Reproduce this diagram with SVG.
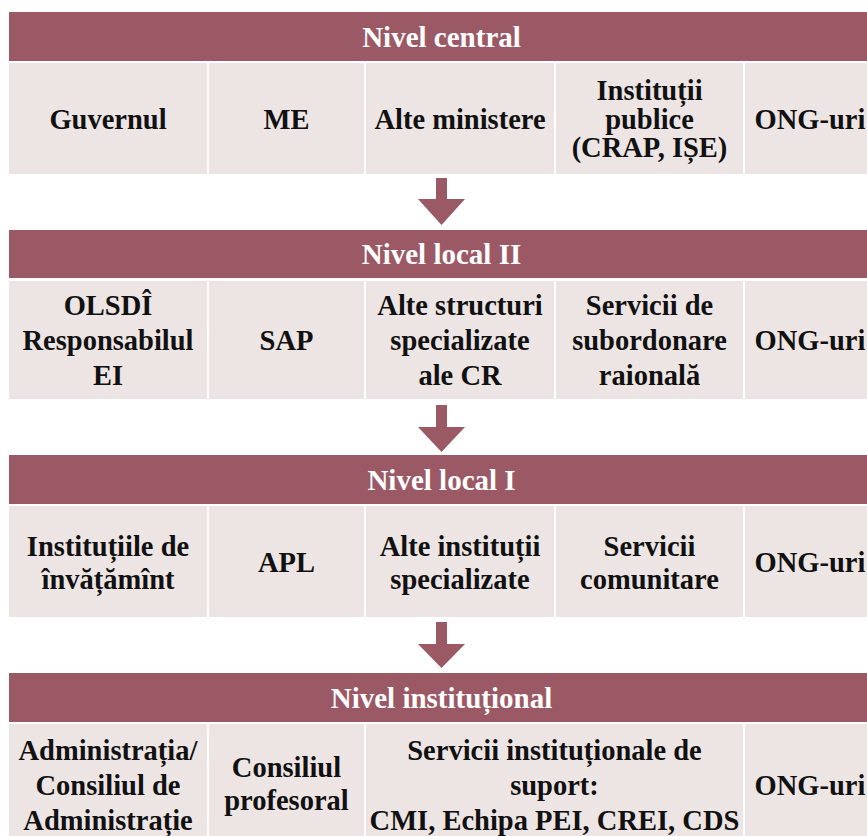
<svg xmlns="http://www.w3.org/2000/svg" width="867" height="836" viewBox="0 0 867 836">
<style>
.hd{fill:#9b5966}
.cl{fill:#ede5e4}
.ht{font-family:'Liberation Serif','Times New Roman',serif;font-weight:700;font-size:29px;fill:#ffffff;text-anchor:middle}
.ct{font-family:'Liberation Serif','Times New Roman',serif;font-weight:700;font-size:28.5px;fill:#111111;text-anchor:middle}
.ar{fill:#9b5966}
</style>
<rect width="867" height="836" fill="#ffffff"/>

<g id="nivel-central">
  <g id="h1"><rect class="hd" x="9" y="12" width="865" height="49"/><text class="ht" x="441.5" y="46.5">Nivel central</text></g>
  <g id="n1-guvernul"><rect class="cl" x="9" y="63" width="198" height="111"/><text class="ct" x="108" y="128.5">Guvernul</text></g>
  <g id="n1-me"><rect class="cl" x="209" y="63" width="155" height="111"/><text class="ct" x="286.5" y="128.5">ME</text></g>
  <g id="n1-alte"><rect class="cl" x="366" y="63" width="188" height="111"/><text class="ct" x="460" y="128.5">Alte ministere</text></g>
  <g id="n1-institutii"><rect class="cl" x="556" y="63" width="187" height="111"/><text class="ct" x="649.5" y="100">Instituții</text><text class="ct" x="649.5" y="128.5">publice</text><text class="ct" x="649.5" y="157">(CRAP, IȘE)</text></g>
  <g id="n1-ong"><rect class="cl" x="745" y="63" width="129" height="111"/><text class="ct" x="810" y="128.5">ONG-uri</text></g>
</g>

<g id="nivel-local-2">
  <g id="h2"><rect class="hd" x="9" y="230" width="865" height="48"/><text class="ht" x="441.5" y="264">Nivel local II</text></g>
  <g id="n2-olsdi"><rect class="cl" x="9" y="281" width="198" height="118"/><text class="ct" x="108" y="315">OLSDÎ</text><text class="ct" x="108" y="350">Responsabilul</text><text class="ct" x="108" y="385">EI</text></g>
  <g id="n2-sap"><rect class="cl" x="209" y="281" width="155" height="118"/><text class="ct" x="286.5" y="350">SAP</text></g>
  <g id="n2-alte"><rect class="cl" x="366" y="281" width="188" height="118"/><text class="ct" x="460" y="315">Alte structuri</text><text class="ct" x="460" y="350">specializate</text><text class="ct" x="460" y="385">ale CR</text></g>
  <g id="n2-servicii"><rect class="cl" x="556" y="281" width="187" height="118"/><text class="ct" x="649.5" y="315">Servicii de</text><text class="ct" x="649.5" y="350">subordonare</text><text class="ct" x="649.5" y="385">raională</text></g>
  <g id="n2-ong"><rect class="cl" x="745" y="281" width="129" height="118"/><text class="ct" x="810" y="350">ONG-uri</text></g>
</g>

<g id="nivel-local-1">
  <g id="h3"><rect class="hd" x="9" y="455" width="865" height="49"/><text class="ht" x="441.5" y="489.5">Nivel local I</text></g>
  <g id="n3-institutiile"><rect class="cl" x="9" y="506" width="198" height="111"/><text class="ct" x="108" y="555.5">Instituțiile de</text><text class="ct" x="108" y="589">învățămînt</text></g>
  <g id="n3-apl"><rect class="cl" x="209" y="506" width="155" height="111"/><text class="ct" x="286.5" y="572">APL</text></g>
  <g id="n3-alte"><rect class="cl" x="366" y="506" width="188" height="111"/><text class="ct" x="460" y="555.5">Alte instituții</text><text class="ct" x="460" y="589">specializate</text></g>
  <g id="n3-servicii"><rect class="cl" x="556" y="506" width="187" height="111"/><text class="ct" x="649.5" y="555.5">Servicii</text><text class="ct" x="649.5" y="589">comunitare</text></g>
  <g id="n3-ong"><rect class="cl" x="745" y="506" width="129" height="111"/><text class="ct" x="810" y="572">ONG-uri</text></g>
</g>

<g id="nivel-institutional">
  <g id="h4"><rect class="hd" x="9" y="673" width="865" height="49"/><text class="ht" x="441.5" y="707.5">Nivel instituțional</text></g>
  <g id="n4-administratia"><rect class="cl" x="9" y="724" width="198" height="122"/><text class="ct" x="108" y="760">Administrația/</text><text class="ct" x="108" y="795">Consiliul de</text><text class="ct" x="108" y="830">Administrație</text></g>
  <g id="n4-consiliul"><rect class="cl" x="209" y="724" width="155" height="122"/><text class="ct" x="286.5" y="777">Consiliul</text><text class="ct" x="286.5" y="810">profesoral</text></g>
  <g id="n4-servicii"><rect class="cl" x="366" y="724" width="377" height="122"/><text class="ct" x="554.5" y="760">Servicii instituționale de</text><text class="ct" x="554.5" y="795">suport:</text><text class="ct" x="554.5" y="830">CMI, Echipa PEI, CREI, CDS</text></g>
  <g id="n4-ong"><rect class="cl" x="745" y="724" width="129" height="122"/><text class="ct" x="810" y="795">ONG-uri</text></g>
</g>

<g id="connectors">
  <polygon class="ar" points="436,178 447,178 447,199 465,199 441.5,225 418,199 436,199"/>
  <polygon class="ar" points="436,405 447,405 447,427 465,427 441.5,452 418,427 436,427"/>
  <polygon class="ar" points="436,622 447,622 447,644 465,644 441.5,668 418,644 436,644"/>
</g>
</svg>
